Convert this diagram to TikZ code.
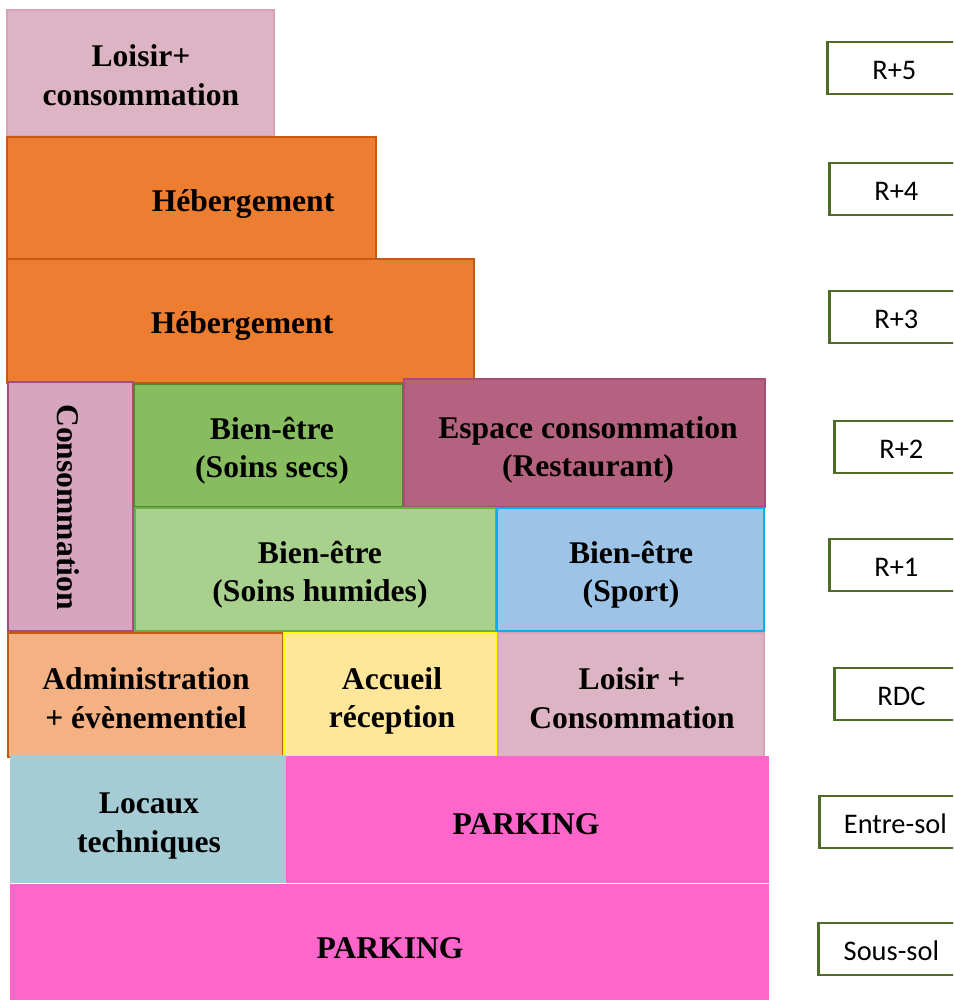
\documentclass[tikz,border=0pt]{standalone}
\usepackage{fontspec}
\setmainfont{Liberation Serif}
\newfontfamily\lblfont{Carlito}
\definecolor{cLoisir}{RGB}{221,180,196}
\definecolor{cLoisirLine}{RGB}{214,163,184}
\definecolor{cHeberg}{RGB}{237,125,49}
\definecolor{cHebergLine}{RGB}{197,90,17}
\definecolor{cConso}{RGB}{213,166,189}
\definecolor{cConsoLine}{RGB}{166,77,121}
\definecolor{cSecs}{RGB}{135,189,95}
\definecolor{cSecsLine}{RGB}{84,130,53}
\definecolor{cHumides}{RGB}{169,209,142}
\definecolor{cHumidesLine}{RGB}{112,173,71}
\definecolor{cResto}{RGB}{181,98,128}
\definecolor{cRestoLine}{RGB}{166,77,121}
\definecolor{cSport}{RGB}{157,195,230}
\definecolor{cSportLine}{RGB}{0,176,240}
\definecolor{cAdmin}{RGB}{244,177,131}
\definecolor{cAccueil}{RGB}{255,230,153}
\definecolor{cAccueilLine}{RGB}{255,255,0}
\definecolor{cTech}{RGB}{165,204,212}
\definecolor{cParking}{RGB}{255,102,204}
\definecolor{cLevel}{RGB}{78,107,40}
\tikzset{
	zone/.style   ={line width=1pt},
	zonetxt/.style={font=\fontsize{15.8}{19.2}\selectfont\bfseries, align=center, inner sep=0pt},
	% floor labels on the right
	lvl/.style    ={draw=cLevel, line width=1.4pt, anchor=west, minimum width=67pt, minimum height=26pt, inner sep=0pt, text height=11.5pt, text depth=0pt, font=\lblfont\fontsize{14.2}{17}\selectfont},
}
\begin{document}
\begin{tikzpicture}[x=0.5pt, y=-0.5pt]
	\useasboundingbox (0,0) rectangle (953,1000);
	\clip (0,0) rectangle (953,1000);
	% R+5
	\filldraw[zone, fill=cLoisir, draw=cLoisirLine] (7,10) rectangle (274,136);
	\node[zonetxt] (loisirHaut) at (141,75) {Loisir+\\consommation};
	% R+4 and R+3
	\filldraw[zone, fill=cHeberg, draw=cHebergLine] (7,137) rectangle (376,261);
	\node[zonetxt] (heberg4) at (243,204) {Hébergement};
	\filldraw[zone, fill=cHeberg, draw=cHebergLine] (7,259) rectangle (474,383);
	\node[zonetxt] (heberg3) at (242,326) {Hébergement};
	% R+2 / R+1
	\filldraw[zone, fill=cConso, draw=cConsoLine] (8,382) rectangle (133,631);
	\node[zonetxt, rotate=-90] (conso) at (68,507) {Consommation};
	\filldraw[zone, fill=cSecs, draw=cSecsLine] (134,384) rectangle (403,507);
	\node[zonetxt] (soinsSecs) at (272,451) {Bien-être\\(Soins secs)};
	\filldraw[zone, fill=cResto, draw=cRestoLine] (404,379) rectangle (765,507);
	\node[zonetxt] (resto) at (588,450) {Espace consommation\\(Restaurant)};
	\filldraw[zone, fill=cHumides, draw=cHumidesLine] (135,508) rectangle (496,631);
	\node[zonetxt] (soinsHum) at (320,575) {Bien-être\\(Soins humides)};
	\filldraw[zone, fill=cSport, draw=cSportLine] (497,508) rectangle (764,631);
	\node[zonetxt] (sport) at (631,575) {Bien-être\\(Sport)};
	% RDC
	\filldraw[zone, fill=cAdmin, draw=cHebergLine] (8,633) rectangle (283,757);
	\node[zonetxt] (admin) at (146,698) {Administration\\+ évènementiel};
	\filldraw[zone, fill=cAccueil, draw=cAccueilLine] (284,633) rectangle (497,757);
	\node[zonetxt] (accueil) at (392,701) {Accueil\\réception};
	\filldraw[zone, fill=cLoisir, draw=cLoisirLine] (498,633) rectangle (764,757);
	\node[zonetxt] (loisirRdc) at (632,698) {Loisir +\\Consommation};
	% entre-sol and sous-sol
	\fill[cTech] (10,755) rectangle (286,883);
	\node[zonetxt] (locaux) at (149,826) {Locaux\\techniques};
	\fill[cParking] (286,756) rectangle (769,883);
	\node[zonetxt] (parking1) at (526,824) {PARKING};
	\fill[cParking] (10,884) rectangle (769,1000);
	\node[zonetxt] (parking2) at (390,948) {PARKING};
	% floor labels
	\node[lvl] (r5) at (826,68) {R+5};
	\node[lvl] (r4) at (828,189) {R+4};
	\node[lvl] (r3) at (828,317) {R+3};
	\node[lvl] (r2) at (833,447) {R+2};
	\node[lvl] (r1) at (828,565) {R+1};
	\node[lvl] (rdc) at (833,694) {RDC};
	\node[lvl, minimum width=76pt] (entresol) at (818,822) {Entre-sol};
	\node[lvl, minimum width=73pt] (soussol) at (817,949) {Sous-sol};
\end{tikzpicture}
\end{document}
